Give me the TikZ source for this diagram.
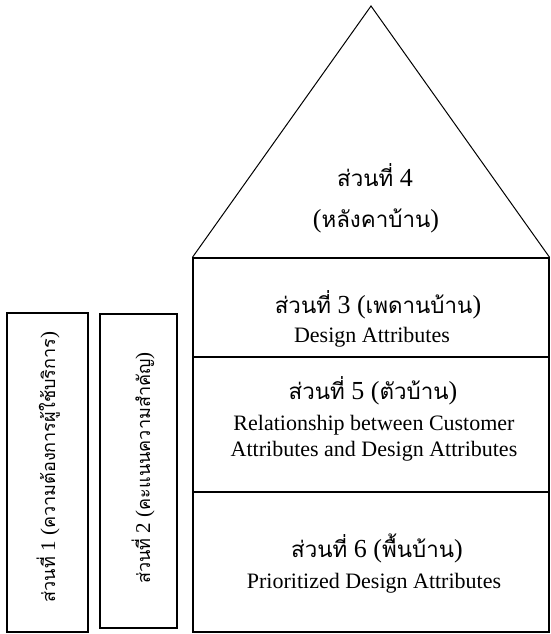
\documentclass[tikz,border=0pt]{standalone}
\usepackage{fontspec}
\setmainfont{Liberation Serif}
\newfontfamily\thaifont[Script=Thai,Scale=0.86]{Loma}
\newcommand{\thai}[1]{{\thaifont #1}}
\tikzset{
	partbox/.style={draw, rectangle, line width=1.2pt, inner sep=0pt},
	headtext/.style={anchor=base, inner sep=0pt, font=\fontsize{26}{30}\selectfont},
	subtext/.style={anchor=base, inner sep=0pt, font=\fontsize{22}{27}\selectfont},
	sidetext/.style={anchor=base, inner sep=0pt, rotate=90, font=\fontsize{21}{25}\selectfont}
}

\begin{document}
\begin{tikzpicture}[x=1pt,y=-1pt]
	\useasboundingbox (0,0) rectangle (550,634);
	% house body
	\node[partbox, minimum width=356pt, minimum height=99pt] (p3) at (371,307.5) {};
	\node[partbox, minimum width=356pt, minimum height=135pt] (p5) at (371,424.5) {};
	\node[partbox, minimum width=356pt, minimum height=140pt] (p6) at (371,562) {};
	% roof
	\coordinate (roof) at (371,6);
	\draw[line width=1pt, line join=miter] (p3.north west) -- (roof) -- (p3.north east);
	% side columns
	\node[partbox, minimum width=81pt, minimum height=319pt] (p1) at (47.5,472.5) {};
	\node[partbox, minimum width=77pt, minimum height=314pt] (p2) at (138.5,471) {};
	
	% texts
	\node[headtext] (t4) at (375,186) {\thai{ส่วนที่} 4};
	\node[headtext] (t4b) at (376,227) {(\thai{หลังคาบ้าน})};
	\node[headtext] (t3) at (378,313) {\thai{ส่วนที่} 3 (\thai{เพดานบ้าน})};
	\node[subtext] (t3b) at (372,342) {Design Attributes};
	\node[headtext] (t5) at (373,399) {\thai{ส่วนที่} 5 (\thai{ตัวบ้าน})};
	\node[subtext] (t5b) at (374,430) {Relationship between Customer};
	\node[subtext] (t5c) at (374,456) {Attributes and Design Attributes};
	\node[headtext] (t6) at (377,557) {\thai{ส่วนที่} 6 (\thai{พื้นบ้าน})};
	\node[subtext] (t6b) at (374,588) {Prioritized Design Attributes};
	\node[sidetext] (t1) at (55,467) {\thai{ส่วนที่} 1 (\thai{ความต้องการผู้ใช้บริการ})};
	\node[sidetext] (t2) at (150,468) {\thai{ส่วนที่} 2 (\thai{คะแนนความสำคัญ})};
\end{tikzpicture}
\end{document}
